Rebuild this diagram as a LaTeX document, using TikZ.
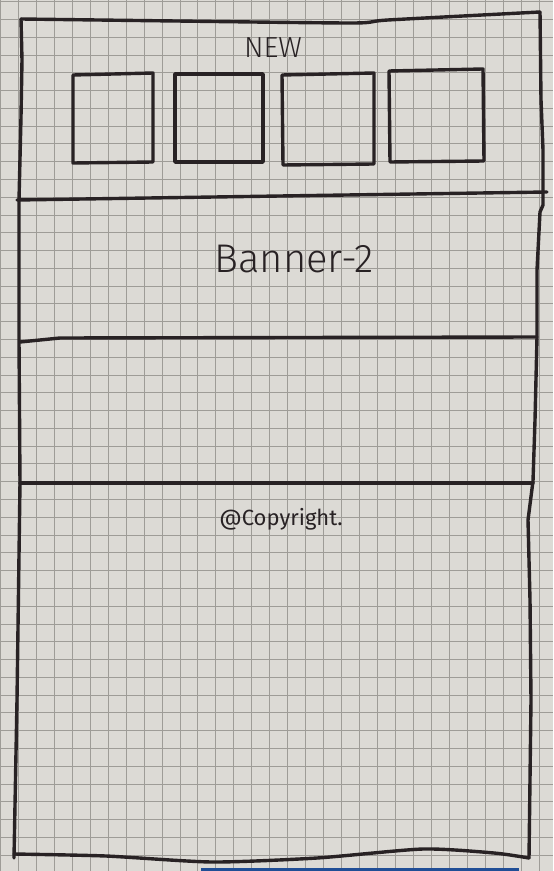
\documentclass[tikz,border=0pt]{standalone}
\usepackage{fontspec}
\newfontfamily\handfont{Fira Sans Light}
\newfontfamily\handfontdark{Fira Sans}
\definecolor{paper}{RGB}{220,218,213}
\definecolor{gridgray}{RGB}{158,156,151}
\definecolor{ink}{RGB}{40,34,36}
\definecolor{tapeblue}{RGB}{32,78,150}
\begin{document}
\begin{tikzpicture}[x=0.5pt,y=-0.5pt,
  pen/.style={draw=ink,line width=1.7pt,line join=round,line cap=round},
  gridline/.style={draw=gridgray,line width=0.5pt},
  handtext/.style={text=ink,inner sep=0pt,anchor=base,font=\handfont}]
% sheet and grid paper
\fill[paper] (0,0) rectangle (553,871);
\useasboundingbox (0,0) rectangle (553,871);
\foreach \k in {0,...,30} \draw[gridline] ({0.5+17.95*\k},0) -- ({0.5+17.95*\k},871);
\foreach \k in {0,...,48} \draw[gridline] (0,{1.7+17.78*\k}) -- (553,{1.7+17.78*\k});
\fill[tapeblue] (201,868) rectangle (519,871);

% page frame
\draw[pen] plot[smooth,tension=0.4] coordinates {(21,19) (176,21) (353,23) (388,20) (540,12)};
\draw[pen] (540,12) -- (541,100) -- (543,150) -- (543,205) -- (540,212) -- (537,270)
  -- (537,337) -- (535,420) -- (533,481) -- (528,520) -- (530,600) -- (531,700) -- (529,858);
\draw[pen] (21,19) -- (22,60) -- (21,117) -- (19,200) -- (19,340) -- (20,483) -- (17,700) -- (14,858);
\draw[pen] plot[smooth,tension=0.4] coordinates {(14,854) (106,856) (212,862) (317,858) (423,849) (494,853) (529,858)};

% section dividers
\draw[pen] (17,200) -- (280,196) -- (547,192);
\draw[pen] (20,342) -- (60,338) -- (537,337);
\draw[pen] (20,483) -- (533,483);

% NEW section: title and four tiles
\node[handtext,font=\handfont\fontsize{14.5}{16}\selectfont] (newtitle) at (273,58) {NEW};
\draw[pen] (73,75) -- (153,73) -- (153,162) -- (73,163) -- cycle;
\draw[pen] (175,74) -- (263,74) -- (263,162) -- (175,162) -- cycle;
\draw[pen] (282,75) -- (374,73) -- (374,164) -- (283,165) -- cycle;
\draw[pen] (389,71) -- (483,69) -- (484,161) -- (390,162) -- cycle;

% banner and footer labels
\node[handtext,font=\handfont\fontsize{20}{22}\selectfont] (banner) at (294,272) {Banner-2};
\node[handtext,font=\handfontdark\fontsize{11}{13}\selectfont] (copyright) at (281,525) {@Copyright.};
\end{tikzpicture}
\end{document}
